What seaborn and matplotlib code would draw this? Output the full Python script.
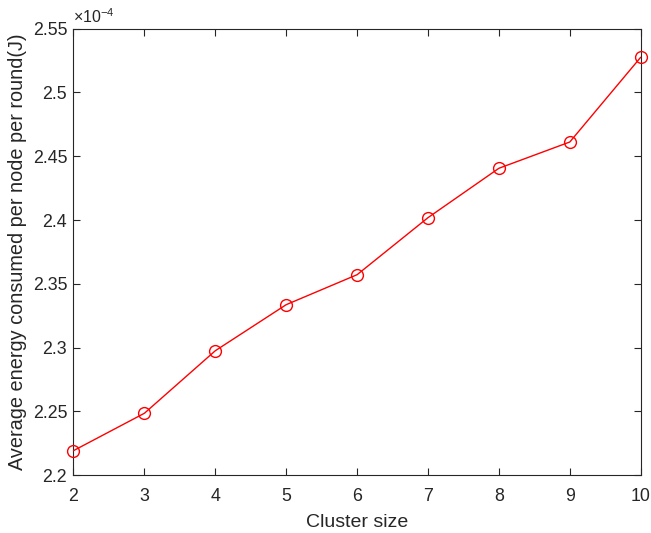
import matplotlib
matplotlib.use("Agg")
import matplotlib.pyplot as plt
import matplotlib.ticker as mticker
import seaborn as sns

# Cluster sizes and average per-node energy per round (J)
cluster_size = [2, 3, 4, 5, 6, 7, 8, 9, 10]
energy = [2.2193e-4, 2.2486e-4, 2.2976e-4, 2.3337e-4, 2.3572e-4,
          2.4019e-4, 2.4406e-4, 2.4612e-4, 2.5276e-4]
y_ticks = [2.2e-4, 2.25e-4, 2.3e-4, 2.35e-4, 2.4e-4, 2.45e-4, 2.5e-4, 2.55e-4]

sns.set_style("white")
plt.rcParams["font.family"] = ["Liberation Sans", "DejaVu Sans"]
plt.rcParams["mathtext.fontset"] = "custom"
plt.rcParams["mathtext.rm"] = "Liberation Sans"

axis_color = "#262626"
fig = plt.figure(figsize=(6.51, 5.33), dpi=100)
ax = fig.add_axes([0.1129, 0.1083, 0.8713, 0.8379])

sns.lineplot(x=cluster_size, y=energy, ax=ax, color="red", linewidth=1.0,
             marker="o", markersize=8.5, markerfacecolor="none",
             markeredgecolor="red", markeredgewidth=1.0, clip_on=False,
             zorder=5)

ax.set_xlim(2, 10)
ax.set_ylim(2.2e-4, 2.55e-4)
ax.set_xticks(cluster_size)
ax.set_yticks(y_ticks)
ax.yaxis.set_major_formatter(mticker.FuncFormatter(lambda v, p: f"{v * 1e4:g}"))

for side in ["top", "right", "bottom", "left"]:
    ax.spines[side].set_visible(True)
    ax.spines[side].set_color(axis_color)
    ax.spines[side].set_linewidth(0.8)

ax.tick_params(direction="in", length=5, width=0.8, color=axis_color,
               labelcolor=axis_color, labelsize=12.8, top=True, right=True,
               bottom=True, left=True)
ax.tick_params(axis="x", pad=9.5)
ax.tick_params(axis="y", pad=4.5)

ax.set_xlabel("Cluster size", fontsize=14, color=axis_color, labelpad=6.5)
ax.set_ylabel("Average energy consumed per node per round(J)", fontsize=14.3,
              color=axis_color, labelpad=4)

ax.text(0.0, 1.006, r"$\times10^{-4}$", transform=ax.transAxes,
        ha="left", va="bottom", fontsize=11.5, color=axis_color)

fig.savefig("out.png", dpi=100)
